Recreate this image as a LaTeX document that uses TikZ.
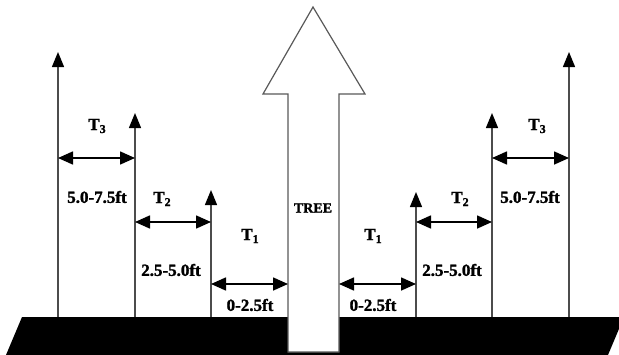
\documentclass[tikz,border=0pt]{standalone}
\usepackage{fontspec}
\setmainfont{Liberation Serif}
\newfontfamily\heavy[FakeBold=1.5]{Liberation Serif Bold}
\usetikzlibrary{arrows.meta}
\newcommand{\tsub}[1]{T\raisebox{-3pt}{\fontsize{12}{12}\selectfont #1}}
\tikzset{
  vline/.style={draw=black!70, line width=1.3pt, -{Triangle[width=12pt,length=15pt,color=black]}},
  span/.style={draw=black, line width=1.6pt, {Triangle[width=13pt,length=15pt]}-{Triangle[width=13pt,length=15pt]}},
  lab/.style={font=\fontsize{17}{17}\selectfont\heavy, inner sep=0pt},
  tlab/.style={font=\fontsize{17}{17}\selectfont\heavy, inner sep=0pt},
  tree/.style={fill=white, draw=black!65, line width=1.2pt, line join=miter}
}
\begin{document}
\begin{tikzpicture}[x=1pt,y=-1pt]
\useasboundingbox (0,0) rectangle (619,354);
\begin{scope}
\clip (0,0) rectangle (619,354);
\fill[black] (22,317) -- (624,317) -- (608,355) -- (6,355) -- cycle;
\end{scope}
% ground anchors and tops
\foreach \n/\x/\t in {a/58/52, b/135/113, c/211/190, d/416/192, e/492/113, f/569/52}{
  \coordinate (\n0) at (\x,317);
  \coordinate (\n1) at (\x,\t);
}
\draw[vline] (a0) -- (a1);
\draw[vline] (b0) -- (b1);
\draw[vline] (c0) -- (c1);
\draw[vline] (d0) -- (d1);
\draw[vline] (e0) -- (e1);
\draw[vline] (f0) -- (f1);
% tree
\draw[tree] (288,352) -- (288,94) -- (263,94) -- (313,7) -- (365,94) -- (339,94) -- (339,352) -- cycle;
\node[lab, font=\fontsize{14}{14}\selectfont\heavy] (treelab) at (313,208) {TREE};
% span endpoints
\coordinate (s3a) at (58,158);  \coordinate (s3b) at (135,158);
\coordinate (s2a) at (135,222); \coordinate (s2b) at (211,222);
\coordinate (s1a) at (211,284); \coordinate (s1b) at (288,284);
\coordinate (r1a) at (339,284); \coordinate (r1b) at (416,284);
\coordinate (r2a) at (416,222); \coordinate (r2b) at (492,222);
\coordinate (r3a) at (492,158); \coordinate (r3b) at (569,158);
\draw[span] (s3a) -- (s3b);
\draw[span] (s2a) -- (s2b);
\draw[span] (s1a) -- (s1b);
\draw[span] (r1a) -- (r1b);
\draw[span] (r2a) -- (r2b);
\draw[span] (r3a) -- (r3b);
% T labels
\node[tlab] (tl3) at (97,126) {\tsub{3}};
\node[tlab] (tl2) at (162,199) {\tsub{2}};
\node[tlab] (tl1) at (250,236) {\tsub{1}};
\node[tlab] (tr1) at (373,236) {\tsub{1}};
\node[tlab] (tr2) at (460,199) {\tsub{2}};
\node[tlab] (tr3) at (537,126) {\tsub{3}};
% distance labels
\node[lab] (dl3) at (97,197) {5.0-7.5ft};
\node[lab] (dl2) at (171,270) {2.5-5.0ft};
\node[lab] (dl1) at (250,305) {0-2.5ft};
\node[lab] (dr1) at (373,305) {0-2.5ft};
\node[lab] (dr2) at (452,270) {2.5-5.0ft};
\node[lab] (dr3) at (530,197) {5.0-7.5ft};
\end{tikzpicture}
\end{document}
